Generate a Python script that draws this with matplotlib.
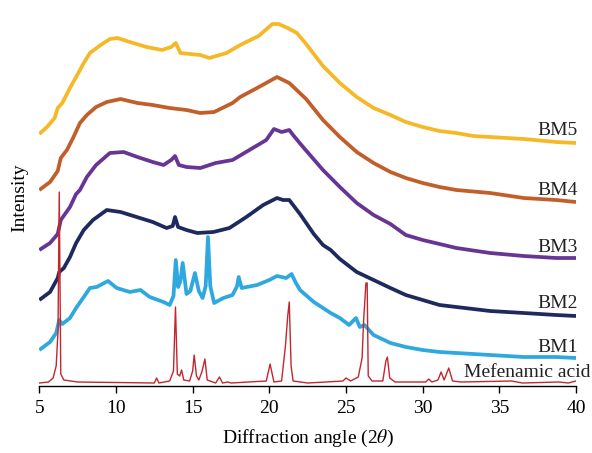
import matplotlib.pyplot as plt

# heights, arbitrary units (already offset per pattern)
bm5_x = [5.0, 5.5, 6.0, 6.2, 6.5, 7.0, 7.4, 7.9, 8.3, 9.0, 9.6, 10.1, 10.9, 12.0, 13.0,
         13.6, 13.9, 14.2, 15.5, 16.1, 17.2, 18.1, 19.3, 20.2, 20.6, 21.2, 21.8, 22.4,
         23.5, 24.6, 25.7, 26.8, 27.9, 28.9, 30.0, 31.1, 32.2, 33.3, 34.4, 36.6, 38.7, 40.0]
bm5_y = [252, 259, 268, 278, 283, 298, 309, 323, 333, 341, 347, 348, 344, 339, 336,
         339, 343, 333, 331, 328, 333, 341, 350, 362, 362, 358, 353, 342,
         320, 303, 289, 278, 271, 264, 259, 255, 253, 250, 249, 247, 244, 243]

bm4_x = [5.0, 5.7, 6.2, 6.4, 6.8, 7.2, 7.65, 8.1, 8.7, 9.4, 10.3, 11.4, 12.4, 13.5,
         14.6, 15.5, 16.4, 17.6, 18.1, 19.2, 20.5, 21.3, 22.4, 23.5, 24.6, 25.7, 26.8,
         27.9, 28.9, 30.0, 31.1, 32.2, 34.4, 36.6, 38.7, 40.0]
bm4_y = [196, 204, 215, 228, 236, 248, 263, 271, 279, 284, 287, 283, 281, 278,
         276, 273, 274, 283, 289, 298, 309, 303, 287, 266, 249, 234, 223,
         214, 208, 203, 199, 196, 193, 188, 186, 184]

bm3_x = [5.0, 5.7, 6.2, 6.4, 7.0, 7.4, 7.65, 8.1, 8.7, 9.6, 10.5, 11.4, 12.4, 13.1,
         13.6, 13.85, 14.1, 14.6, 15.5, 16.5, 17.6, 18.7, 19.8, 20.3, 20.8, 21.3, 21.6,
         22.2, 23.5, 24.6, 25.7, 26.8, 27.9, 28.9, 30.0, 31.1, 32.2, 34.4, 36.6, 38.7, 40.0]
bm3_y = [136, 143, 152, 166, 179, 192, 196, 209, 221, 233, 234, 229, 224, 221,
         226, 230, 221, 219, 218, 223, 226, 236, 246, 257, 254, 256, 250,
         239, 216, 199, 183, 171, 162, 151, 146, 142, 138, 133, 130, 128, 128]

bm2_x = [5.0, 5.7, 6.2, 6.3, 6.6, 7.0, 7.4, 7.9, 8.5, 9.4, 10.3, 11.35, 12.4, 13.3,
         13.7, 13.85, 14.05, 14.6, 15.3, 16.35, 17.4, 18.5, 19.6, 20.5, 20.9, 21.3,
         22.0, 22.9, 23.5, 24.0, 24.6, 25.7, 26.8, 27.9, 28.9, 30.0, 31.1, 32.2, 34.4,
         36.6, 38.7, 40.0]
bm2_y = [86, 94, 108, 114, 118, 129, 143, 156, 166, 176, 174, 169, 164, 158,
         160, 169, 159, 156, 153, 154, 158, 169, 181, 188, 186, 186,
         172, 152, 141, 136, 127, 114, 106, 98, 91, 86, 81, 79, 75,
         73, 71, 70]

bm1_x = [5.0, 5.7, 6.1, 6.3, 6.5, 7.0, 7.4, 7.9, 8.3, 8.74, 9.48, 10.05, 10.9, 11.6,
         12.2, 13.1, 13.5, 13.75, 13.9, 14.05, 14.2, 14.35, 14.6, 14.85, 15.15, 15.4,
         15.65, 15.85, 16.0, 16.15, 16.4, 17.0, 17.6, 17.9, 18.0, 18.2, 19.2, 20.0, 20.5,
         21.1, 21.45, 21.7, 22.0, 22.9, 24.0, 24.6, 25.2, 25.65, 25.9, 26.2, 26.8, 27.9,
         28.9, 30.0, 31.1, 32.2, 34.4, 36.6, 38.7, 40.0]
bm1_y = [36, 44, 53, 66, 62, 68, 78, 89, 98, 99, 105, 98, 94, 96,
         89, 84, 81, 90, 126, 99, 105, 123, 92, 95, 113, 95,
         88, 100, 149, 100, 83, 88, 91, 100, 109, 98, 101, 106, 110,
         108, 112, 104, 96, 84, 73, 68, 61, 68, 59, 61, 51, 43,
         39, 36, 34, 33, 31, 29, 29, 28]

mef_x = [5.0, 5.6, 5.9, 6.1, 6.22, 6.3, 6.4, 6.6, 7.5, 12.5, 12.65, 12.8, 13.5, 13.75,
         13.88, 14.0, 14.15, 14.28, 14.42, 14.8, 15.0, 15.1, 15.25, 15.4, 15.6, 15.8,
         15.95, 16.5, 16.75, 16.95, 17.3, 17.5, 19.8, 20.05, 20.3, 20.8, 21.05, 21.2,
         21.3, 21.42, 21.55, 22.5, 23.7, 24.8, 25.0, 25.3, 25.8, 26.05, 26.15, 26.3,
         26.38, 26.45, 26.7, 27.4, 27.6, 27.7, 27.85, 28.2, 30.2, 30.4, 30.6, 31.0,
         31.2, 31.4, 31.7, 31.95, 32.5, 35.8, 36.5, 38.9, 39.5, 40.0]
mef_y = [3, 4, 8, 20, 55, 194, 12, 6, 4, 3, 8, 3, 5, 15,
         79, 12, 10, 16, 6, 5, 15, 31, 10, 6, 14, 27,
         6, 3, 9, 3, 4, 3, 5, 22, 4, 5, 40, 70,
         84, 20, 5, 3, 4, 5, 8, 5, 9, 28, 66, 103,
         103, 10, 5, 5, 25, 29, 8, 4, 4, 7, 4, 6,
         14, 6, 18, 5, 4, 5, 3, 4, 3, 5]

labels = ['BM5', 'BM4', 'BM3', 'BM2', 'BM1', 'Mefenamic acid']
label_y = [251, 191, 134, 78, 34, 9]
colors = ['#f5b928', '#c25e2a', '#673594', '#1e2a5e', '#2fa8df', '#c1272d']

plt.rcParams['font.family'] = 'Liberation Serif'
plt.rcParams['mathtext.fontset'] = 'stix'

fig = plt.figure(figsize=(5.92, 4.53), dpi=100)
ax = fig.add_axes([0.0664, 0.1479, 0.9066, 0.830])

series = [(bm5_x, bm5_y), (bm4_x, bm4_y), (bm3_x, bm3_y), (bm2_x, bm2_y), (bm1_x, bm1_y)]
for (xs, ys), c in zip(series, colors[:5]):
    ax.plot(xs, ys, color=c, lw=2.7, solid_joinstyle='round', solid_capstyle='butt')
ax.plot(mef_x, mef_y, color=colors[5], lw=1.0)

for lab, ly in zip(labels[:5], label_y[:5]):
    ax.text(40.1, ly, lab, ha='right', va='baseline', fontsize=14, color='#222222')
ax.text(40.95, label_y[5], labels[5], ha='right', va='baseline', fontsize=14,
        color='#222222', clip_on=False)

ax.set_xlim(5, 40)
ax.set_ylim(0, 376)
ax.set_xticks(range(5, 41, 5))
ax.set_yticks([])
ax.tick_params(axis='x', direction='out', length=5, width=1, labelsize=14, pad=5)
for s in ['left', 'top', 'right']:
    ax.spines[s].set_visible(False)
ax.spines['bottom'].set_linewidth(1.0)
ax.set_xlabel(r'Diffraction angle (2$\theta$)', fontsize=14, labelpad=8)
ax.set_ylabel('Intensity', fontsize=14, labelpad=8)

fig.savefig('out.png', dpi=100)
